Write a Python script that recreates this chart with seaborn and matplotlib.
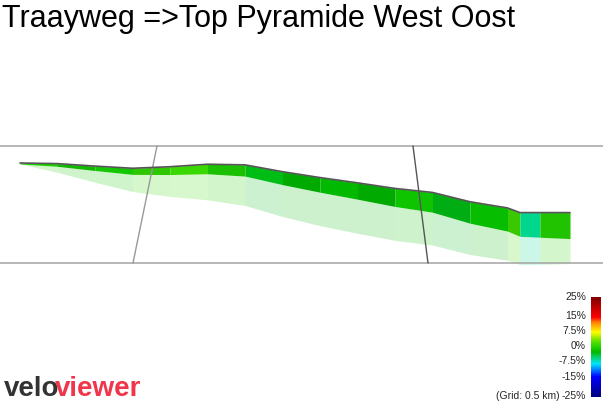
import numpy as np
import matplotlib
matplotlib.use("Agg")
import matplotlib.pyplot as plt
import seaborn as sns
from matplotlib.colors import LinearSegmentedColormap, Normalize

# profile data: distance (km) and elevation (m)
distance_km = [0.0, 0.15, 0.3, 0.45, 0.6, 0.75, 0.9, 1.05, 1.2, 1.35, 1.5, 1.65, 1.8, 1.95, 2.0, 2.08, 2.2]
elevation_m = [30.0, 29.8, 29.0, 28.3, 28.8, 29.6, 29.4, 27.2, 25.3, 23.6, 21.8, 20.5, 17.5, 15.5, 14.0, 14.0, 14.0]
gradient_pct = [-0.3, -1.0, -1.0, 0.8, 1.0, -0.3, -3.0, -2.5, -2.5, -2.5, -1.5, -3.0, -2.0, 1.5, -6.0, 0.0]
cbar_ticks = [25, 15, 7.5, 0, -7.5, -15, -25]
cbar_labels = ["25%", "15%", "7.5%", "0%", "-7.5%", "-15%", "-25%"]
title = "Traayweg =>Top Pyramide West Oost"

sns.set_theme(style="white")
plt.rcParams['font.family'] = ['Liberation Sans', 'DejaVu Sans']

fig = plt.figure(figsize=(6.03, 4.04), dpi=100)
ax = fig.add_axes([0, 0, 1, 1])
ax.set_xlim(0, 603)
ax.set_ylim(404, 0)
ax.axis("off")

cmap = LinearSegmentedColormap.from_list("grad", [
    (0.0, "#00007f"), (0.2, "#0000ff"), (0.33, "#00e5ff"), (0.4, "#00d060"),
    (0.45, "#00b800"), (0.5, "#22d400"), (0.56, "#60e000"),
    (0.65, "#ffff00"), (0.75, "#ff8000"), (0.8, "#ff0000"), (1.0, "#800000")])
norm = Normalize(-25, 25)

d = np.array(distance_km)
e = np.array(elevation_m)
xp = 20 + d * 250
yp = 163 + (30 - e) * 3.1
thick = 1 + (xp - 20) / 550 * 25
shadow = 1 + (xp - 20) / 550 * 50 + np.sin(np.clip((xp - 20) / 550, 0, 1) * np.pi) * 20

for yy in (146, 263):
    ax.plot([0, 603], [yy, yy], color="#aaaaaa", lw=1.2)
ax.plot([157, 133], [146, 263], color="#999999", lw=1)
ax.plot([413, 428], [146, 263], color="#555555", lw=1)

for i in range(len(xp) - 1):
    xs = np.linspace(xp[i], xp[i + 1], 2)
    top = np.linspace(yp[i], yp[i + 1], 2)
    bot = top + np.linspace(thick[i], thick[i + 1], 2)
    sb = top + np.linspace(shadow[i], shadow[i + 1], 2)
    c = cmap(norm(gradient_pct[i]))
    ax.fill_between(xs, bot, sb, color=c, alpha=0.2, lw=0)
    ax.fill_between(xs, top, bot, color=c, lw=0)
    ax.fill_between(xs, top, bot, color="black", alpha=0.08 * (i % 2), lw=0)

sns.lineplot(x=xp, y=yp, ax=ax, color="#555555", lw=1.2, legend=False)

fig.text(0.003, 0.99, title, fontsize=22, va="top", ha="left", color="black")

# logo
ax.text(4, 396, "velo", fontsize=20, fontweight="bold", color="#333333", va="baseline", ha="left")
ax.text(55, 396, "viewer", fontsize=20, fontweight="bold", color="#f0364a", va="baseline", ha="left")

cax = fig.add_axes([591 / 603, 1 - 397 / 404, 10 / 603, 100 / 404])
grad = np.linspace(-25, 25, 200).reshape(-1, 1)
cax.imshow(grad, aspect="auto", cmap=cmap, norm=norm, origin="lower", extent=[0, 1, -25, 25])
cax.set_xticks([]); cax.set_yticks([])
for s in cax.spines.values():
    s.set_visible(False)
pos = {25: 297, 15: 316, 7.5: 331, 0: 346, -7.5: 361, -15: 377, -25: 396}
for t, lab in zip(cbar_ticks, cbar_labels):
    ax.text(586, pos[t], lab, fontsize=7.5, ha="right", va="center")
ax.text(560, 396, "(Grid: 0.5 km)", fontsize=7.5, ha="right", va="center")

fig.savefig("out.png", dpi=100)
